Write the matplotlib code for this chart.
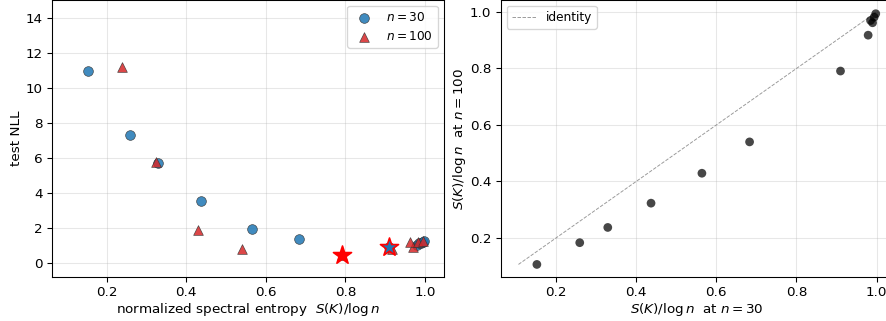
import numpy as np
import matplotlib
matplotlib.use("Agg")
import matplotlib.pyplot as plt

# normalized spectral entropy S(K)/log n per kernel setting
ent30 = [0.152, 0.259, 0.329, 0.437, 0.564, 0.683, 0.910, 0.979, 0.985, 0.990, 0.994, 0.998]
ent100 = [0.106, 0.183, 0.237, 0.323, 0.429, 0.540, 0.791, 0.918, 0.970, 0.962, 0.982, 0.994]
# test NLL (n=100 values for the two sharpest kernels are off the chart)
nll30 = [10.93, 7.28, 5.72, 3.52, 1.96, 1.35, 0.89, 1.05, 1.12, 1.16, 1.20, 1.24]
nll100 = [np.nan, np.nan, 11.2, 5.74, 1.88, 0.78, 0.44, 0.78, 0.93, 1.20, 1.20, 1.25]

e30, e100 = np.array(ent30), np.array(ent100)
n30, n100 = np.array(nll30), np.array(nll100)
b30, b100 = int(np.nanargmin(n30)), int(np.nanargmin(n100))

plt.rcParams["axes.labelpad"] = 1.5
DPI = 97
fig = plt.figure(figsize=(886 / DPI, 321 / DPI), dpi=DPI)
axA = fig.add_axes([0.0587, 0.137, 0.4424, 0.863])
axB = fig.add_axes([0.5650, 0.137, 0.4436, 0.863])

# Panel A: NLL vs entropy
axA.scatter(e30, n30, s=52, marker="o", color="C0", alpha=0.85,
            edgecolor="0.2", linewidth=0.5, label=r"$n=30$", zorder=3)
axA.scatter(e100, n100, s=52, marker="^", color="C3", alpha=0.85,
            edgecolor="0.2", linewidth=0.5, label=r"$n=100$", zorder=3)
axA.scatter([e30[b30]], [n30[b30]], s=200, marker="*", color="C0",
            edgecolor="red", linewidth=1.2, zorder=4)
axA.scatter([e100[b100]], [n100[b100]], s=200, marker="*", color="red",
            edgecolor="red", linewidth=1.2, zorder=4)
axA.set_xlim(0.062, 1.048)
axA.set_ylim(-0.8, 15)
axA.set_xlabel(r"normalized spectral entropy  $S(K)/\log n$")
axA.set_ylabel("test NLL")
axA.legend(loc="upper right", fontsize=9)
axA.grid(alpha=0.3)

# Panel B: entropy at n=30 vs n=100
lo = min(e30.min(), e100.min())
hi = max(e30.max(), e100.max())
axB.plot([lo, hi], [lo, hi], ls="--", color="gray", lw=0.7, alpha=0.8,
         label="identity")
axB.scatter(e30, e100, s=42, color="k", alpha=0.72, edgecolor="none", zorder=3)
axB.set_xlabel(r"$S(K)/\log n$  at $n=30$")
axB.set_ylabel(r"$S(K)/\log n$  at $n=100$")
axB.legend(loc="upper left", fontsize=9)
axB.grid(alpha=0.3)

fig.savefig("out.png", dpi=DPI)
